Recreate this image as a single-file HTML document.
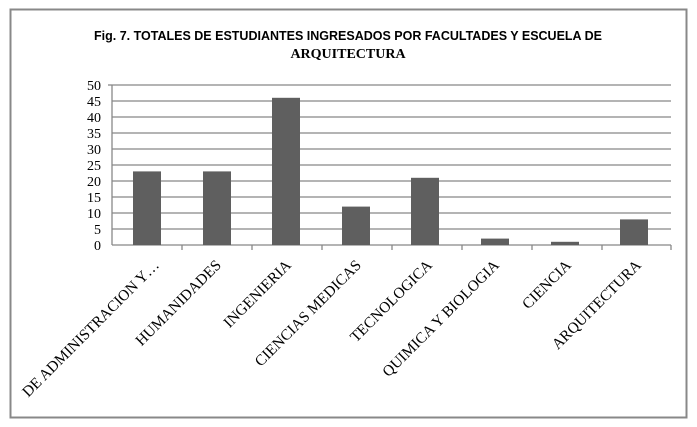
<!DOCTYPE html>
<html><head><meta charset="utf-8"><style>
html,body{margin:0;padding:0;background:#fff;width:697px;height:427px;overflow:hidden}
</style></head><body>
<svg width="697" height="427" xmlns="http://www.w3.org/2000/svg">
<rect x="10.5" y="9.5" width="676" height="408" fill="#fff" stroke="#888" stroke-width="2"/>
<text x="348" y="40" text-anchor="middle" font-family="Liberation Sans, sans-serif" font-weight="bold" font-size="12.5">Fig. 7. TOTALES DE ESTUDIANTES INGRESADOS POR FACULTADES Y ESCUELA DE</text>
<text x="348" y="58" text-anchor="middle" font-family="Liberation Serif, serif" font-weight="bold" font-size="14">ARQUITECTURA</text>
<g stroke="#888" stroke-width="1.3">
<line x1="112" y1="85" x2="671" y2="85"/><line x1="112" y1="101" x2="671" y2="101"/>
<line x1="112" y1="117" x2="671" y2="117"/><line x1="112" y1="133" x2="671" y2="133"/>
<line x1="112" y1="149" x2="671" y2="149"/><line x1="112" y1="165" x2="671" y2="165"/>
<line x1="112" y1="181" x2="671" y2="181"/><line x1="112" y1="197" x2="671" y2="197"/>
<line x1="112" y1="213" x2="671" y2="213"/><line x1="112" y1="229" x2="671" y2="229"/>
<line x1="112" y1="245" x2="671" y2="245"/>
<line x1="112" y1="85" x2="112" y2="245"/>
<line x1="108" y1="85" x2="112" y2="85"/>
<line x1="182" y1="245" x2="182" y2="250"/><line x1="252" y1="245" x2="252" y2="250"/>
<line x1="322" y1="245" x2="322" y2="250"/><line x1="392" y1="245" x2="392" y2="250"/>
<line x1="462" y1="245" x2="462" y2="250"/><line x1="532" y1="245" x2="532" y2="250"/>
<line x1="602" y1="245" x2="602" y2="250"/><line x1="671" y1="245" x2="671" y2="250"/>
</g>
<g font-family="Liberation Serif, serif" font-size="14" text-anchor="end">
<text x="101" y="90">50</text><text x="101" y="106">45</text><text x="101" y="122">40</text>
<text x="101" y="138">35</text><text x="101" y="154">30</text><text x="101" y="170">25</text>
<text x="101" y="186">20</text><text x="101" y="202">15</text><text x="101" y="218">10</text>
<text x="101" y="234">5</text><text x="101" y="250">0</text>
</g>
<g fill="#5f5f5f">
<rect x="133" y="171.4" width="28" height="73.6"/>
<rect x="203" y="171.4" width="28" height="73.6"/>
<rect x="272" y="97.8" width="28" height="147.2"/>
<rect x="342" y="206.6" width="28" height="38.4"/>
<rect x="411" y="177.8" width="28" height="67.2"/>
<rect x="481" y="238.6" width="28" height="6.4"/>
<rect x="551" y="241.8" width="28" height="3.2"/>
<rect x="620" y="219.4" width="28" height="25.6"/>
</g>
<g font-family="Liberation Serif, serif" font-size="15.3" text-anchor="end">
<text transform="translate(160,266) rotate(-45)">DE ADMINISTRACION Y…</text>
<text transform="translate(222,266) rotate(-45)">HUMANIDADES</text>
<text transform="translate(292,266) rotate(-45)">INGENIERIA</text>
<text transform="translate(362,266) rotate(-45)">CIENCIAS MEDICAS</text>
<text transform="translate(433,266) rotate(-45)">TECNOLOGICA</text>
<text transform="translate(500,266) rotate(-45)">QUIMICA Y BIOLOGIA</text>
<text transform="translate(572,266) rotate(-45)">CIENCIA</text>
<text transform="translate(642,266) rotate(-45)">ARQUITECTURA</text>
</g>
</svg>
</body></html>
